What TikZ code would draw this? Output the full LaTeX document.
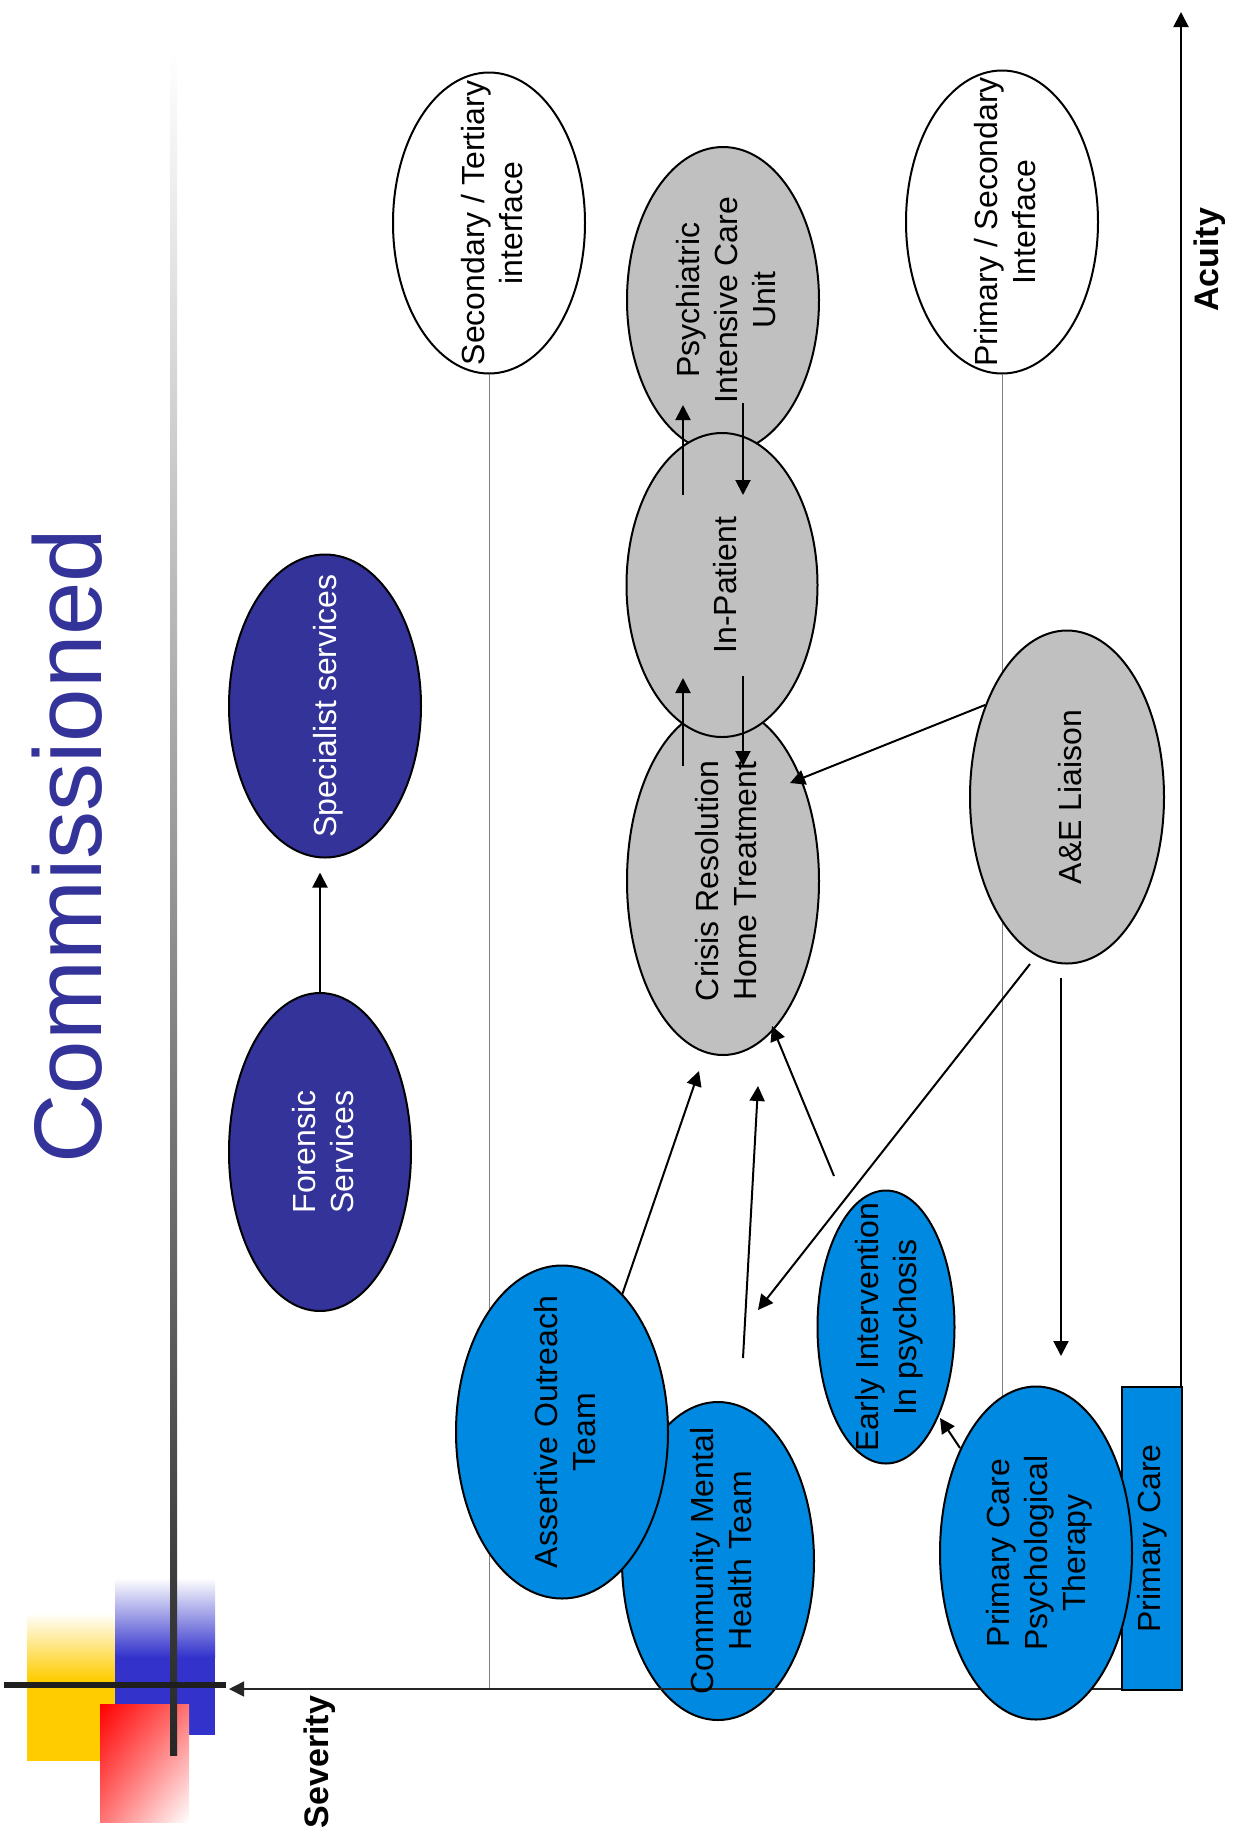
\documentclass[tikz,border=0pt]{standalone}
\usepackage{fontspec}
\setmainfont{Liberation Sans}
\usetikzlibrary{shapes.geometric,arrows.meta,calc,backgrounds,shadings}
\definecolor{navy}{HTML}{333399}
\definecolor{nhsblue}{RGB}{0,137,224}
\definecolor{lightgrey}{HTML}{C0C0C0}
\definecolor{deco yellow}{HTML}{FFCC00}
\definecolor{deco blue}{HTML}{3333CC}
\tikzset{
  svc/.style={ellipse, draw, line width=1pt, rotate=90, inner sep=0pt},
  lbl/.style={xshift=1.5pt, rotate=90, align=center, inner sep=0pt, font=\fontsize{16}{19}\selectfont},
  axislbl/.style={rotate=90, inner sep=0pt, font=\fontsize{17}{20}\selectfont\bfseries},
  arr/.style={-{Triangle[length=7.5pt,width=7.5pt]}, line width=1pt},
  guide/.style={draw=gray, line width=0.5pt},
}
\begin{document}
\begin{tikzpicture}[x=0.5pt,y=-0.5pt]
\useasboundingbox (0,0) rectangle (1239,1843);
\shade[top color=white, bottom color=deco yellow] (27,1613) rectangle (115,1680);
\fill[deco yellow] (27,1680) rectangle (115,1761);
\shade[top color=white, bottom color=deco blue] (115,1578) rectangle (215,1657);
\fill[deco blue] (115,1657) rectangle (215,1735);
\shade[upper left=red, upper right=red!55, lower left=red!55, lower right=white] (100,1704) rectangle (189,1822);
\shade[top color=white, bottom color=black!85] (170,50) rectangle (177,1755);
\draw[line width=3pt, black!88] (4,1685) -- (226,1685);
\node[rotate=90, inner sep=0pt, text=navy, font=\fontsize{48}{58}\selectfont] (title) at (67,846) {Commissioned};

\coordinate (origin) at (1181,1689);
\coordinate (acuend) at (1181,12);
\coordinate (sevend) at (229,1689);

\node[svc, fill=white, minimum width=150.5pt, minimum height=96pt] (sec) at (489,223) {};
\node[svc, fill=white, minimum width=151.5pt, minimum height=96pt] (psi) at (1002,222) {};
\node[svc, fill=lightgrey, minimum width=153pt, minimum height=96pt] (picu) at (723,300) {};
\node[svc, fill=lightgrey, minimum width=174pt, minimum height=96pt] (crht) at (723,881) {};
\node[svc, fill=lightgrey, minimum width=152pt, minimum height=95.5pt] (inpat) at (722,585) {};
\node[svc, fill=lightgrey, minimum width=166.5pt, minimum height=97pt] (ae) at (1067,797) {};
\node[svc, fill=navy, minimum width=151.5pt, minimum height=96pt] (spec) at (325,706) {};
\node[svc, fill=navy, minimum width=159pt, minimum height=91pt] (fore) at (320,1152) {};
\node[svc, fill=nhsblue, minimum width=159pt, minimum height=96pt] (cmht) at (718,1561) {};
\node[svc, fill=nhsblue, minimum width=166.5pt, minimum height=106pt] (aot) at (562,1432) {};
\node[svc, fill=nhsblue, minimum width=136.5pt, minimum height=68.5pt] (eip) at (886,1327) {};

\begin{scope}[on background layer]
\draw[guide] (sec.west) -- (sec.west |- origin);
\draw[guide] (psi.west) -- (psi.west |- origin);
\end{scope}

\draw[arr] (origin) -- (acuend);
\draw[arr, line width=0.8pt, black!85] (origin) -- (sevend);
\node[axislbl] (acuity) at (1210,260) {Acuity};
\node[axislbl] (severity) at (320,1762) {Severity};

\node[draw, line width=1pt, fill=nhsblue, rotate=90, minimum width=151.5pt, minimum height=30pt, inner sep=0pt, font=\fontsize{16}{19}\selectfont] (pc) at (1152,1538.5) {Primary Care};
\node[svc, fill=nhsblue, minimum width=166.5pt, minimum height=96pt] (pcpt) at (1036,1553) {};

\node[lbl] (sec-t) at (sec.center) {Secondary / Tertiary\\interface};
\node[lbl] (psi-t) at (psi.center) {Primary / Secondary\\Interface};
\node[lbl] (picu-t) at (picu.center) {Psychiatric\\Intensive Care\\Unit};
\node[lbl] (inpat-t) at (inpat.center) {In-Patient};
\node[lbl] (crht-t) at (crht.center) {Crisis Resolution\\Home Treatment};
\node[lbl] (ae-t) at (ae.center) {A\&E Liaison};
\node[lbl, text=white] (spec-t) at (spec.center) {Specialist services};
\node[lbl, text=white] (fore-t) at (fore.center) {Forensic\\Services};
\node[lbl] (cmht-t) at (cmht.center) {Community Mental\\Health Team};
\node[lbl] (aot-t) at (aot.center) {Assertive Outreach\\Team};
\node[lbl] (eip-t) at (eip.center) {Early Intervention\\In psychosis};
\node[lbl] (pcpt-t) at (pcpt.center) {Primary Care\\Psychological\\Therapy};

\draw[arr, shorten >=7pt] (fore.east) -- (fore.east |- spec.west);
\draw[arr] ($(inpat.center)+(-39,-90)$) -- ($(inpat.center)+(-39,-180)$);
\draw[arr] ($(inpat.center)+(21,-182)$) -- ($(inpat.center)+(21,-90)$);
\draw[arr] ($(inpat.center)+(-39,181)$) -- ($(inpat.center)+(-39,93)$);
\draw[arr] ($(inpat.center)+(21,91)$) -- ($(inpat.center)+(21,181)$);
\draw[arr] ($(ae.center)+(-82,-92)$) -- ($(crht.center)+(67,-98)$);
\draw[arr] ($(aot.center)+(60,-137)$) -- ($(crht.center)+(-24,190)$);
\draw[arr] ($(cmht.center)+(25,-203)$) -- ($(crht.center)+(35,205)$);
\draw[arr] ($(eip.center)+(-52,-151)$) -- ($(crht.center)+(49,145)$);
\draw[arr] ($(ae.center)+(-37,167)$) -- ($(cmht.center)+(40,-251)$);
\draw[arr] ($(ae.center)+(-6,181)$) -- ($(pcpt.center)+(25,-197)$);
\draw[arr] ($(pcpt.center)+(-76,-105)$) -- ($(eip.center)+(54,91)$);
\end{tikzpicture}
\end{document}
